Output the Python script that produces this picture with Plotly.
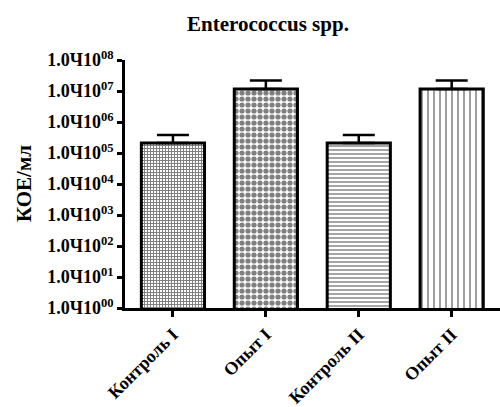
import plotly.graph_objects as go

categories = ["Контроль I", "Опыт I", "Контроль II", "Опыт II"]
values = [2.1e5, 1.15e7, 2.1e5, 1.15e7]
err_plus = [1.7e5, 1.05e7, 1.7e5, 1.05e7]
patterns = ["+", ".", "-", "|"]
pattern_sizes = [3, 6, 4, 6]
pattern_solidity = [0.55, 0.6, 0.35, 0.25]
tick_vals = [10 ** i for i in range(9)]
tick_text = ["<b>1.0Ч10<sup>%02d</sup></b>" % i for i in range(9)]

fig = go.Figure()
fig.add_trace(go.Bar(
    x=categories, y=values, width=0.68,
    marker=dict(color="white", line=dict(color="black", width=3),
                pattern=dict(shape=patterns, size=pattern_sizes, solidity=pattern_solidity,
                             fgcolor="black", bgcolor="white")),
    error_y=dict(type="data", array=err_plus, arrayminus=[0]*4, symmetric=False,
                 color="black", thickness=2.5, width=16),
))

font = "'Liberation Serif', 'Times New Roman', serif"
fig.update_layout(
    width=500, height=407,
    margin=dict(l=125, r=0, t=60, b=99, autoexpand=False),
    plot_bgcolor="white", paper_bgcolor="white",
    showlegend=False,
    title=dict(text="<b>Enterococcus spp.</b>", x=0.536, xref="container", xanchor="center",
               y=0.943, yref="container", yanchor="middle",
               font=dict(family=font, size=21, color="black")),
    font=dict(family=font, color="black"),
    annotations=[dict(text="<b>КОЕ/мл</b>", textangle=-90, xref="paper", yref="paper",
                      x=(24 - 125) / 375, y=0.5, xanchor="center", yanchor="middle",
                      showarrow=False, font=dict(family=font, size=21, color="black"))],
)
fig.update_yaxes(type="log", range=[0, 8], tickvals=tick_vals, ticktext=tick_text,
                 tickfont=dict(family=font, size=18, color="black"),
                 ticks="outside", ticklen=5, tickwidth=2.5, tickcolor="black",
                 showline=True, linecolor="black", linewidth=2.5, showgrid=False,
                 zeroline=False, automargin=False)
fig.update_xaxes(range=[-0.516, 3.52], tickangle=-45, automargin=False,
                 tickvals=categories, ticktext=["<b>%s</b>" % c for c in categories],
                 tickfont=dict(family=font, size=18, color="black"),
                 ticks="outside", ticklen=6, tickwidth=2.5, tickcolor="black",
                 showline=True, linecolor="black", linewidth=2.5, showgrid=False)

fig.write_html("out.html", config={"displayModeBar": False},
               post_script="document.body.style.margin='0';")
